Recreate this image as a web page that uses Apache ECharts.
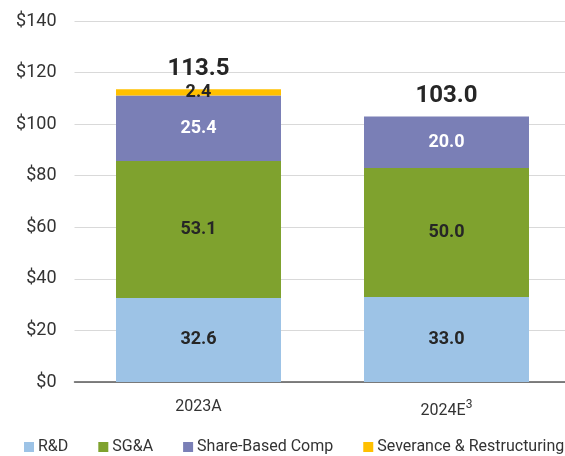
<!DOCTYPE html>
<html>
<head>
<meta charset="utf-8">
<script src="https://cdn.jsdelivr.net/npm/echarts@6/dist/echarts.min.js"></script>
<style>
  html, body { margin: 0; padding: 0; background: #fff; overflow: hidden; }
  #chart { width: 580px; height: 456px; }
</style>
</head>
<body>
<div id="chart"></div>
<script>
var categories = ['2023A', '2024E']
var rnd = [32.6, 33.0]
var sga = [53.1, 50.0]
var sbc = [25.4, 20.0]
var severance = [2.4, null]
var totals = [113.5, 103.0]
var yTicks = [0, 20, 40, 60, 80, 100, 120, 140]

// the plot runs a little past the right edge of the 565px window
var chart = echarts.init(document.getElementById('chart'))

function segLabel(color) {
  return {
    show: true,
    position: 'inside',
    color: color,
    fontSize: 18,
    fontWeight: 'bold',
    fontFamily: 'Roboto',
    formatter: function (p) { return p.value == null ? '' : p.value.toFixed(1) }
  }
}

chart.setOption({
  animation: false,
  textStyle: { fontFamily: 'Roboto' },
  grid: {
    top: 21,
    left: 74.5,
    width: 496,
    bottom: 74
  },
  legend: {
    bottom: 1,
    left: 24,
    padding: [0, 0],
    icon: 'rect',
    itemWidth: 10,
    itemHeight: 10,
    itemGap: 30,
    textStyle: { fontSize: 16, color: '#333', fontFamily: 'Roboto', padding: [0, 0, 0, -1] },
    data: ['R&D', 'SG&A', 'Share-Based Comp', 'Severance & Restructuring']
  },
  xAxis: {
    type: 'category',
    data: categories,
    axisTick: { show: false },
    axisLine: { lineStyle: { color: '#595959', width: 1.5 } },
    axisLabel: {
      fontSize: 16,
      color: '#333',
      margin: 17,
      formatter: function (v) {
        return v === '2024E' ? v + '{sup|3}' : v
      },
      rich: {
        sup: { fontSize: 12, color: '#333', verticalAlign: 'top', padding: [0, 0, 12, 0] }
      }
    }
  },
  yAxis: {
    type: 'value',
    min: yTicks[0],
    max: yTicks[yTicks.length - 1],
    interval: 20,
    axisLabel: {
      fontSize: 18,
      color: '#333',
      margin: 18,
      formatter: function (v) { return '$' + v }
    },
    axisLine: { show: false },
    splitLine: { lineStyle: { color: '#d9d9d9' } }
  },
  series: [
    {
      name: 'R&D', type: 'bar', stack: 'total', barWidth: 165,
      itemStyle: { color: '#9dc3e6' },
      label: segLabel('#262626'),
      data: rnd
    },
    {
      name: 'SG&A', type: 'bar', stack: 'total',
      itemStyle: { color: '#7fa22e' },
      label: segLabel('#262626'),
      data: sga
    },
    {
      name: 'Share-Based Comp', type: 'bar', stack: 'total',
      itemStyle: { color: '#7a7fb6' },
      label: segLabel('#ffffff'),
      data: sbc
    },
    {
      name: 'Severance & Restructuring', type: 'bar', stack: 'total',
      itemStyle: { color: '#ffc000' },
      label: segLabel('#262626'),
      data: severance
    },
    {
      name: 'Total', type: 'scatter',
      symbolSize: 0,
      silent: true,
      itemStyle: { opacity: 1, color: 'rgba(0,0,0,0)' },
      label: {
        show: true,
        position: 'top',
        distance: 8,
        fontSize: 24,
        fontWeight: 'bold',
        color: '#262626',
        fontFamily: 'Roboto',
        formatter: function (p) { return p.value.toFixed(1) }
      },
      data: totals
    }
  ]
})
</script>
</body>
</html>
